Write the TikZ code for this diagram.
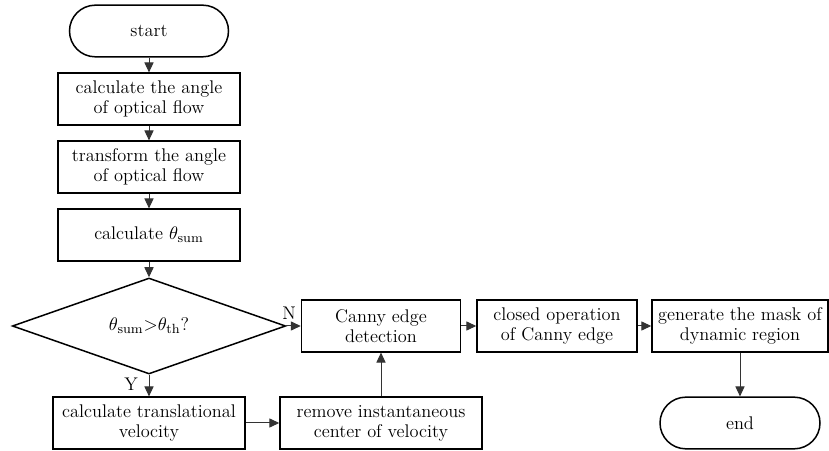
\documentclass[tikz,border=0pt]{standalone}
\usepackage{amsmath}
\usetikzlibrary{shapes,arrows.meta,positioning,calc}

\tikzset{
  box/.style={draw, line width=0.9pt, rectangle, minimum height=31pt,
              align=center, inner sep=1pt, font=\fontsize{11}{12}\selectfont},
  term/.style={box, rounded corners=15.5pt},
  decide/.style={draw, line width=0.9pt, diamond, inner sep=0pt,
                 minimum width=164pt, minimum height=57.6pt,
                 font=\fontsize{11}{12}\selectfont},
  flow/.style={draw=black!80, line width=0.6pt,
               -{Triangle[length=6pt,width=5.5pt]}},
  tag/.style={font=\fontsize{11}{12}\selectfont, inner sep=0pt}
}

\begin{document}
\begin{tikzpicture}[x=0.6pt,y=-0.6pt]
  \useasboundingbox (0,0) rectangle (829,451);

  % main column
  \node[term, minimum width=95.4pt] (start) at (149,31) {start};
  \node[box, minimum width=109.2pt] (angle) at (149,99)
       {calculate the angle\\of optical flow};
  \node[box, minimum width=109.2pt] (trans) at (149,167)
       {transform the angle\\of optical flow};
  \node[box, minimum width=109.2pt] (sum) at (149,235)
       {calculate $\theta_{\mathrm{sum}}$};
  \node[decide] (check) at (149,326)
       {$\theta_{\mathrm{sum}}{>}\theta_{\mathrm{th}}$?};
  \node[box, minimum width=115.2pt] (velo) at (149,423)
       {calculate translational\\velocity};

  % right part
  \node[box, minimum width=121.2pt] (remove) at (381,423)
       {remove instantaneous\\center of velocity};
  \node[box, minimum width=95.4pt] (canny) at (381,326)
       {Canny edge\\detection};
  \node[box, minimum width=96pt] (close) at (557,326)
       {closed operation\\of Canny edge};
  \node[box, minimum width=105.6pt] (mask) at (740,326)
       {generate the mask of\\dynamic region};
  \node[term, minimum width=96pt] (end) at (740,423) {end};

  % labels
  \node[tag] (nlab) at (289,313) {N};
  \node[tag] (ylab) at (131,384) {Y};

  % connectors
  \draw[flow] (start) -- (angle);
  \draw[flow] (angle) -- (trans);
  \draw[flow] (trans) -- (sum);
  \draw[flow] (sum) -- (check);
  \draw[flow] (check.south) -- (velo);
  \draw[flow] (check.east) -- (canny);
  \draw[flow] (velo) -- (remove);
  \draw[flow] (remove) -- (canny);
  \draw[flow] (canny) -- (close);
  \draw[flow] (close) -- (mask);
  \draw[flow] (mask) -- (end);
\end{tikzpicture}
\end{document}
